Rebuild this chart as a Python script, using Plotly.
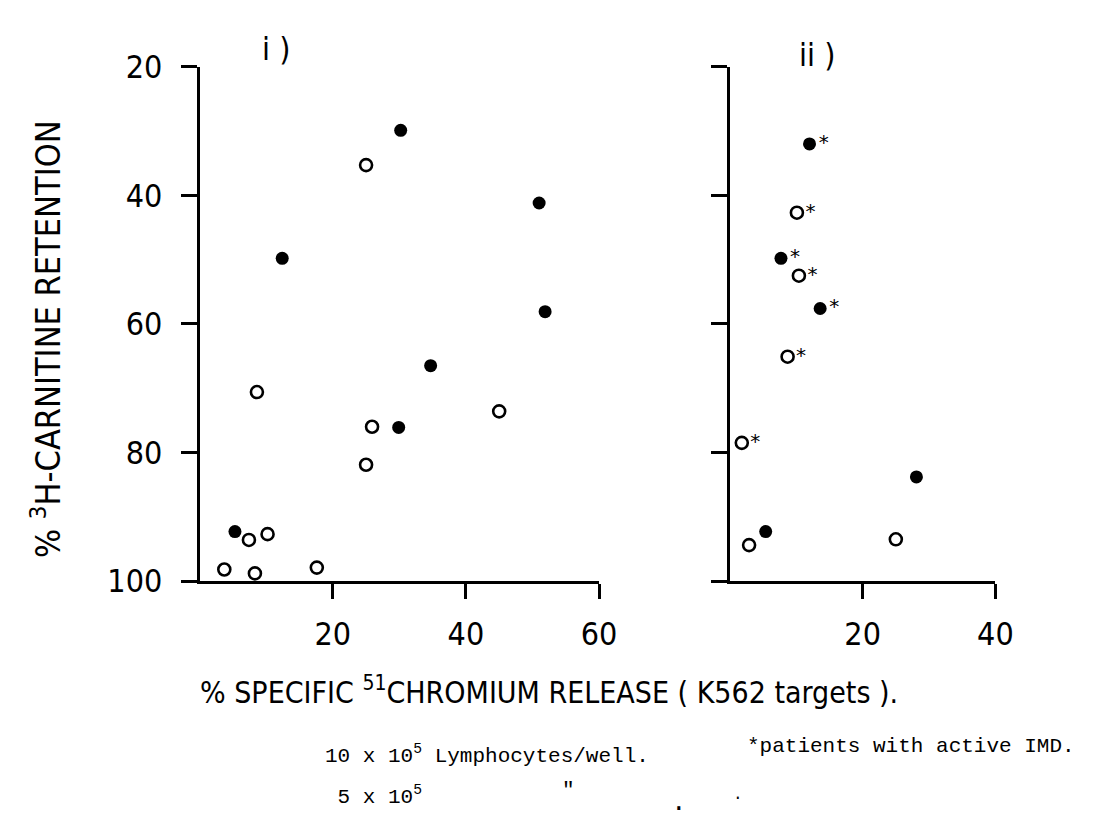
import plotly.graph_objects as go

# ---- data ----
# Panel i)
left_filled_x = [30.2, 51.0, 12.4, 51.9, 34.7, 29.9, 5.3]
left_filled_y = [29.9, 41.2, 49.8, 58.1, 66.5, 76.1, 92.3]
left_open_x = [25.0, 8.6, 45.0, 25.9, 25.0, 10.2, 7.4, 3.7, 8.3, 17.6]
left_open_y = [35.3, 70.6, 73.6, 76.0, 81.9, 92.7, 93.6, 98.2, 98.8, 97.9]

# Panel ii)
right_filled_x = [12.0, 7.7, 13.6, 28.1, 5.4]
right_filled_y = [32.0, 49.8, 57.6, 83.8, 92.3]
right_filled_flag = ["*", "*", "*", "", ""]
right_open_x = [10.1, 10.4, 8.7, 1.8, 2.9, 25.0]
right_open_y = [42.7, 52.5, 65.1, 78.5, 94.4, 93.5]
right_open_flag = ["*", "*", "*", "*", "", ""]

y_ticks = [20, 40, 60, 80, 100]
x1_ticks = [20, 40, 60]
x2_ticks = [20, 40]

W, H = 1099, 832
NARROW = "Liberation Sans Narrow, DejaVu Sans Condensed, Arial Narrow, sans-serif"
MONO = "Liberation Mono, Courier New, monospace"

filled_marker = dict(symbol="circle", size=13, color="black", line=dict(width=0))
open_marker = dict(symbol="circle-open", size=12, color="black", line=dict(width=2.6))
star_font = dict(family="DejaVu Sans", size=20, color="black")

fig = go.Figure()
fig.add_trace(go.Scatter(x=left_filled_x, y=left_filled_y, mode="markers",
                         marker=filled_marker, xaxis="x", yaxis="y",
                         name="10 x 10^5 Lymphocytes/well"))
fig.add_trace(go.Scatter(x=left_open_x, y=left_open_y, mode="markers",
                         marker=open_marker, xaxis="x", yaxis="y",
                         name="5 x 10^5 Lymphocytes/well"))
fig.add_trace(go.Scatter(x=right_filled_x, y=right_filled_y, mode="markers+text",
                         text=right_filled_flag, textposition="middle right",
                         textfont=star_font,
                         marker=filled_marker, xaxis="x2", yaxis="y2",
                         name="10 x 10^5 Lymphocytes/well"))
fig.add_trace(go.Scatter(x=right_open_x, y=right_open_y, mode="markers+text",
                         text=right_open_flag, textposition="middle right",
                         textfont=star_font,
                         marker=open_marker, xaxis="x2", yaxis="y2",
                         name="5 x 10^5 Lymphocytes/well"))

axis_common = dict(showgrid=False, zeroline=False, showline=True, linecolor="black",
                   linewidth=3, ticks="outside", tickcolor="black", tickwidth=3,
                   tickfont=dict(family=NARROW, size=32, color="black"))

ydom = [1 - 589 / H, 1 - 50 / H]
fig.update_layout(
    width=W, height=H, margin=dict(l=0, r=0, t=0, b=0),
    paper_bgcolor="white", plot_bgcolor="white", showlegend=False,
    xaxis=dict(domain=[203 / W, 609 / W], range=[0, 60], tickvals=x1_ticks,
               ticklen=15, ticklabelstandoff=8, anchor="y", **axis_common),
    yaxis=dict(domain=ydom, range=[100, 20], tickvals=y_ticks, ticklen=16,
               ticklabelstandoff=12, anchor="x", **axis_common),
    xaxis2=dict(domain=[742 / W, 1012 / W], range=[0, 40], tickvals=x2_ticks,
                ticklen=15, ticklabelstandoff=8, anchor="y2", **axis_common),
    yaxis2=dict(domain=ydom, range=[100, 20], tickvals=y_ticks, ticklen=16,
                showticklabels=False, anchor="x2", **axis_common),
)


def ann(text, x, y, size, family=NARROW, angle=0, xanchor="center"):
    fig.add_annotation(text=text, x=x / W, y=1 - y / H, xref="paper", yref="paper",
                       showarrow=False, textangle=angle, xanchor=xanchor, yanchor="middle",
                       font=dict(family=family, size=size, color="black"))


ann("i )", 281, 31, 32)
ann("ii )", 831, 38, 32)
ann("% <sup>3</sup>H-CARNITINE RETENTION", 46, 335, 34, angle=-90)
ann("% SPECIFIC <sup>51</sup>CHROMIUM RELEASE ( K562 targets ).", 201, 704, 30, xanchor="left")
ann("10 x 10<sup>5</sup> Lymphocytes/well.", 328, 771, 21, family=MONO, xanchor="left")
ann("*patients with active IMD.", 1095, 762, 21, family=MONO, xanchor="right")
ann(" 5 x 10<sup>5</sup>", 328, 814, 21, family=MONO, xanchor="left")
ann('"', 578, 808, 21, family=MONO)
ann(".", 690, 822, 26, family=MONO)
ann(".", 750, 813, 16, family=MONO)

fig.write_html("out.html")
